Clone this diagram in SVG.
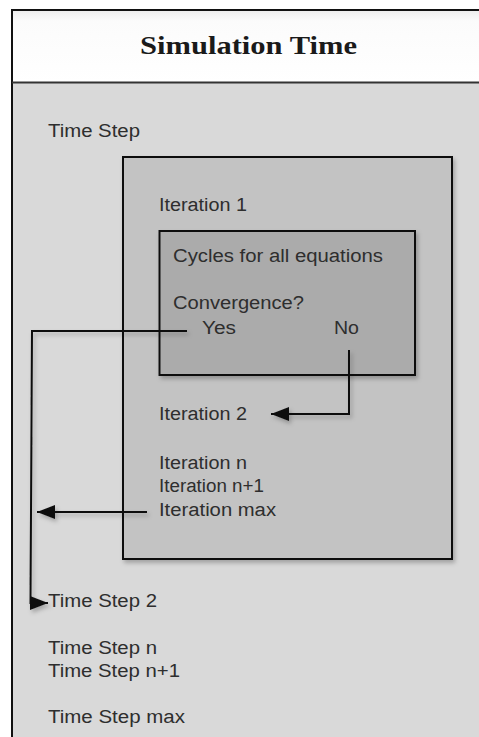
<svg xmlns="http://www.w3.org/2000/svg" width="479" height="737" viewBox="0 0 479 737">
<style>
.t{font-family:"Liberation Sans",Arial,sans-serif;font-size:18px;fill:#2e2e2e}
.title{font-family:"Liberation Serif","Times New Roman",serif;font-weight:bold;font-size:26px;fill:#1a1a1a}
.box{stroke:#111;stroke-width:2}
.conn{fill:none;stroke:#111;stroke-width:2}
</style>
<defs>
<marker id="ah" markerUnits="userSpaceOnUse" markerWidth="20" markerHeight="14" refX="18" refY="7" orient="auto">
<path d="M0,0 L18,7 L0,14 z" fill="#111"/>
</marker>
<filter id="sh" x="-10%" y="-10%" width="130%" height="130%">
<feDropShadow dx="2" dy="3" stdDeviation="2" flood-color="#000" flood-opacity="0.25"/>
</filter>
<linearGradient id="hdr" x1="0" y1="0" x2="0" y2="1">
<stop offset="0" stop-color="#ececec"/>
<stop offset="0.15" stop-color="#fbfbfb"/>
<stop offset="1" stop-color="#ffffff"/>
</linearGradient>
</defs>
<rect x="0" y="0" width="479" height="737" fill="#ffffff"/>
<g id="simulation">
<rect x="12" y="82" width="470" height="660" fill="#d9d9d9"/>
<rect x="12" y="10" width="470" height="72" fill="url(#hdr)"/>
<path d="M12,737 V10 H482" fill="none" stroke="#111" stroke-width="2"/>
<line x1="12" y1="82.5" x2="479" y2="82.5" stroke="#333" stroke-width="2"/>
<text class="title" x="248.5" y="54" text-anchor="middle" textLength="217" lengthAdjust="spacingAndGlyphs">Simulation Time</text>
<text class="t" x="48" y="137" textLength="92" lengthAdjust="spacingAndGlyphs">Time Step</text>
</g>
<g id="timestep-box">
<rect class="box" x="123" y="157" width="329" height="402" fill="#c3c3c3" filter="url(#sh)"/>
<text class="t" x="159" y="211" textLength="88" lengthAdjust="spacingAndGlyphs">Iteration 1</text>
</g>
<g id="iteration-box">
<rect class="box" x="159.5" y="231" width="255.5" height="144" fill="#ababab" filter="url(#sh)"/>
<text class="t" x="173" y="262" textLength="210" lengthAdjust="spacingAndGlyphs">Cycles for all equations</text>
<text class="t" x="173" y="309" textLength="131" lengthAdjust="spacingAndGlyphs">Convergence?</text>
<text class="t" x="202" y="334" textLength="34" lengthAdjust="spacingAndGlyphs">Yes</text>
<text class="t" x="334" y="334" textLength="25" lengthAdjust="spacingAndGlyphs">No</text>
</g>
<g id="iterations">
<text class="t" x="159" y="420" textLength="88" lengthAdjust="spacingAndGlyphs">Iteration 2</text>
<text class="t" x="159" y="469" textLength="88" lengthAdjust="spacingAndGlyphs">Iteration n</text>
<text class="t" x="159" y="492" textLength="105" lengthAdjust="spacingAndGlyphs">Iteration n+1</text>
<text class="t" x="159" y="516" textLength="117" lengthAdjust="spacingAndGlyphs">Iteration max</text>
</g>
<g id="timesteps">
<text class="t" x="48" y="607" textLength="109" lengthAdjust="spacingAndGlyphs">Time Step 2</text>
<text class="t" x="48" y="654" textLength="109" lengthAdjust="spacingAndGlyphs">Time Step n</text>
<text class="t" x="48" y="677" textLength="132" lengthAdjust="spacingAndGlyphs">Time Step n+1</text>
<text class="t" x="48" y="723" textLength="137" lengthAdjust="spacingAndGlyphs">Time Step max</text>
</g>
<g id="connectors" filter="url(#sh)">
<path class="conn" d="M187,331 H32 L30.5,603 H48" marker-end="url(#ah)"/>
<path class="conn" d="M349,350 V414 H271" marker-end="url(#ah)"/>
<path class="conn" d="M147,512 H37" marker-end="url(#ah)"/>
</g>
</svg>
